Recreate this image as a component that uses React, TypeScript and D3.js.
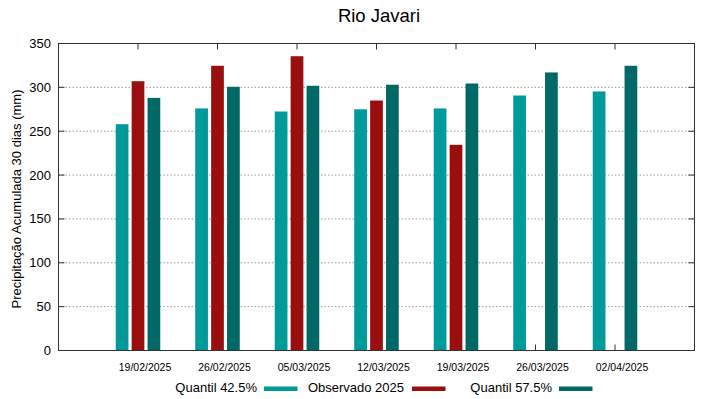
import React from "react";
import * as d3 from "d3";

const categories = ["19/02/2025", "26/02/2025", "05/03/2025", "12/03/2025", "19/03/2025", "26/03/2025", "02/04/2025"];
const q425 = [258, 276, 272.5, 275, 276, 290.7, 295.3];
const observado: (number | null)[] = [307, 324.6, 335.5, 285, 234.5, null, null];
const q575 = [288, 300.6, 301.8, 303, 304.4, 317, 324.6];
const yTicks = [0, 50, 100, 150, 200, 250, 300, 350];

const seriesNames = ["Quantil 42.5%", "Observado 2025", "Quantil 57.5%"];
const colors = ["#009a9a", "#9a0e0e", "#006867"];

const W = 719, H = 399;
const L = 58.5, R = 694.5, T = 43.5, B = 350.5;
const font = "'Liberation Sans', Arial, sans-serif";

export default function App() {
  const x = d3.scaleLinear().domain([-1, 7]).range([L, R]);
  const y = d3.scaleLinear().domain([0, 350]).range([B, T]);
  const bw = x(0.16) - x(0);
  const series = [q425, observado, q575];
  const offsets = [-0.2, 0, 0.2];
  const legendItems = [
    { textEnd: 257, sw: 264 },
    { textEnd: 404, sw: 412 },
    { textEnd: 552, sw: 559 },
  ];
  return (
    <svg width={W} height={H} style={{ position: "absolute", left: 0, top: 0, background: "#fff" }} fontFamily={font}>
      <rect x={0} y={0} width={W} height={H} fill="#fff" />
      <text x={379} y={22} textAnchor="middle" fontSize={18.5} fill="#000">Rio Javari</text>
      {yTicks.map((t) => (
        <g key={t}>
          {t > 0 && t < 350 && (
            <line x1={L} x2={R} y1={y(t)} y2={y(t)} stroke="#999" strokeWidth={1} strokeDasharray="1.5,2" />
          )}
          <line x1={L} x2={L + 6} y1={y(t)} y2={y(t)} stroke="#333" />
          <line x1={R - 6} x2={R} y1={y(t)} y2={y(t)} stroke="#333" />
          <text x={51} y={y(t) + 4.5} textAnchor="end" fontSize={13} fill="#000">{t}</text>
        </g>
      ))}
      {categories.map((c, i) => (
        <g key={c}>
          <line x1={x(i)} x2={x(i)} y1={T} y2={T + 6} stroke="#333" />
          <line x1={x(i)} x2={x(i)} y1={B} y2={B - 6} stroke="#333" />
          <text x={x(i) + 7} y={371} textAnchor="middle" fontSize={10.5} fill="#000">{c}</text>
        </g>
      ))}
      {series.map((s, si) =>
        s.map((v, i) =>
          v == null ? null : (
            <rect
              key={`${si}-${i}`}
              x={x(i + offsets[si]) - bw / 2}
              y={y(v)}
              width={bw}
              height={y(0) - y(v)}
              fill={colors[si]}
            />
          )
        )
      )}
      <rect x={L} y={T} width={R - L} height={B - T} fill="none" stroke="#333" strokeWidth={1} />
      <text
        transform={`translate(21,${(T + B) / 2 + 2}) rotate(-90)`}
        textAnchor="middle"
        fontSize={13}
        fill="#000"
      >
        Precipitação Acumulada 30 dias (mm)
      </text>
      {seriesNames.map((n, i) => (
        <g key={n}>
          <text x={legendItems[i].textEnd} y={392} textAnchor="end" fontSize={13} fill="#000">{n}</text>
          <rect x={legendItems[i].sw} y={386.5} width={33.5} height={4.5} fill={colors[i]} />
        </g>
      ))}
    </svg>
  );
}
